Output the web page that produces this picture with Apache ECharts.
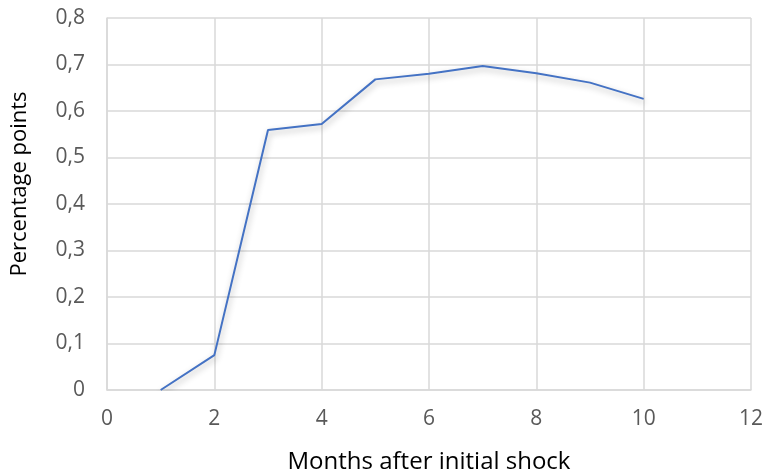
<!DOCTYPE html>
<html><head><meta charset="utf-8">
<script src="https://cdn.jsdelivr.net/npm/echarts@6/dist/echarts.min.js"></script>
<style>html,body{margin:0;padding:0;background:#fff}#c{width:764px;height:472px}</style>
</head><body><div id="c"></div>
<script>
const months = [1, 2, 3, 4, 5, 6, 7, 8, 9, 10];
const values = [0, 0.075, 0.559, 0.572, 0.668, 0.680, 0.697, 0.681, 0.661, 0.626];
const xTitle = 'Months after initial shock';
const yTitle = 'Percentage points';

const chart = echarts.init(document.getElementById('c'), null, {renderer: 'canvas'});
const fontFam = '"Open Sans", "Noto Sans", sans-serif';
const gridColor = '#d9d9d9';
chart.setOption({
  animation: false,
  grid: {left: 107, right: 13, top: 18, bottom: 82, containLabel: false, outerBoundsMode: 'none'},
  xAxis: {
    type: 'value', min: 0, max: 12, interval: 2,
    name: xTitle, nameLocation: 'middle', nameGap: 60,
    nameTextStyle: {fontFamily: fontFam, fontSize: 24, color: '#000'},
    axisLine: {show: true, lineStyle: {color: gridColor, width: 1.5}},
    axisTick: {show: false},
    axisLabel: {fontFamily: fontFam, fontSize: 21, color: '#595959', margin: 19},
    splitLine: {show: true, lineStyle: {color: gridColor, width: 1.5}}
  },
  yAxis: {
    type: 'value', min: 0, max: 0.8, interval: 0.1,
    name: yTitle, nameLocation: 'middle', nameGap: 76, nameRotate: 90,
    nameTextStyle: {fontFamily: fontFam, fontSize: 22, color: '#000', padding: [0, 0, 0, 40]},
    axisLine: {show: true, lineStyle: {color: gridColor, width: 1.5}},
    axisTick: {show: false},
    axisLabel: {fontFamily: fontFam, fontSize: 21, color: '#595959', margin: 22,
      formatter: v => (Math.round(v * 10) / 10).toString().replace('.', ',')},
    splitLine: {show: true, lineStyle: {color: gridColor, width: 1.5}}
  },
  series: [{
    type: 'line',
    data: months.map((m, i) => [m, values[i]]),
    showSymbol: false,
    lineStyle: {color: '#4472C4', width: 2, shadowColor: 'rgba(0,0,0,0.3)', shadowBlur: 6, shadowOffsetY: 3, shadowOffsetX: 1}
  }]
});
</script></body></html>
